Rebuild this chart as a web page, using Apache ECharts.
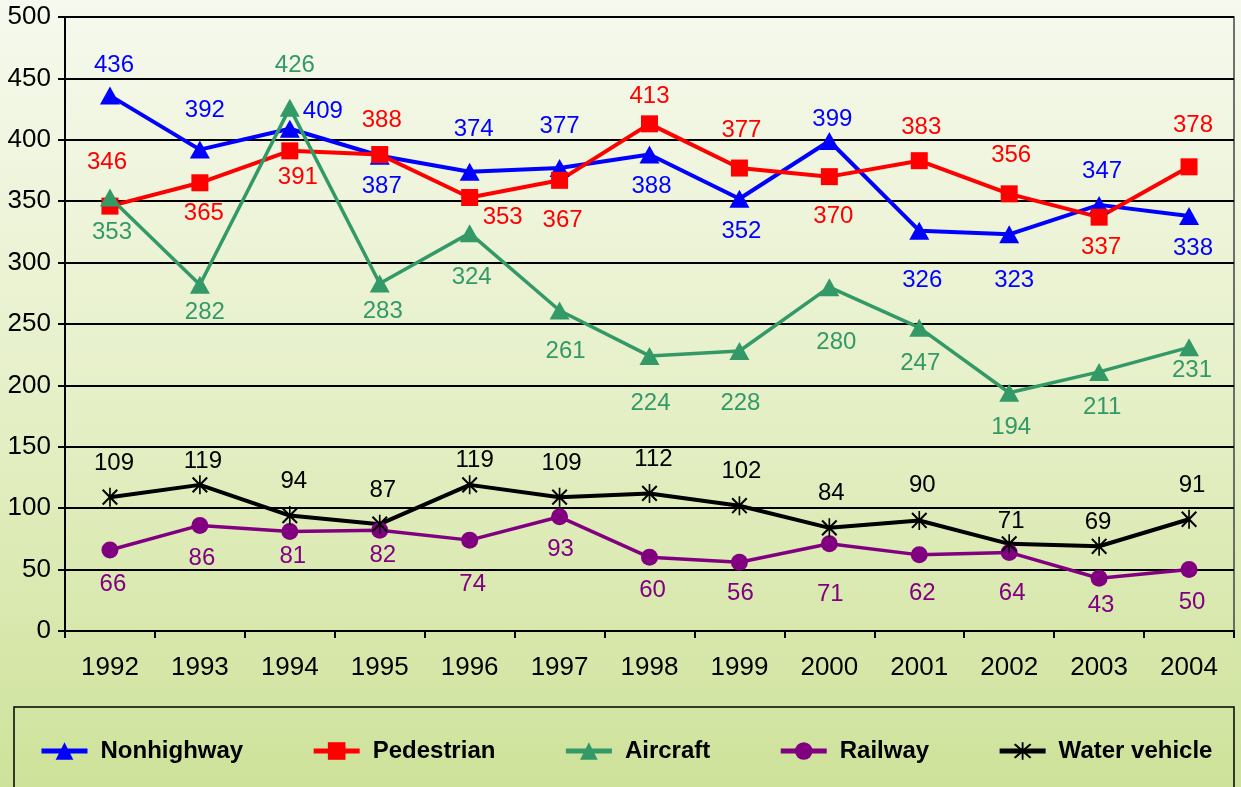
<!DOCTYPE html>
<html>
<head>
<meta charset="utf-8">
<script src="https://cdn.jsdelivr.net/npm/echarts@6/dist/echarts.min.js"></script>
<style>
  html, body { margin: 0; padding: 0; }
  #chart { width: 1241px; height: 787px; }
</style>
</head>
<body>
<div id="chart"></div>
<script>
// data
const years = ['1992', '1993', '1994', '1995', '1996', '1997', '1998', '1999', '2000', '2001', '2002', '2003', '2004']
const nonhighway = [436, 392, 409, 387, 374, 377, 388, 352, 399, 326, 323, 347, 338]
const pedestrian = [346, 365, 391, 388, 353, 367, 413, 377, 370, 383, 356, 337, 378]
const aircraft = [353, 282, 426, 283, 324, 261, 224, 228, 280, 247, 194, 211, 231]
const railway = [66, 86, 81, 82, 74, 93, 60, 56, 71, 62, 64, 43, 50]
const waterVehicle = [109, 119, 94, 87, 119, 109, 112, 102, 84, 90, 71, 69, 91]
const yTicks = { min: 0, max: 500, interval: 50 }

// label placement (pixel offset of each value label from its point)
const nonhighwayOffsets = [[4, -30], [5, -39], [33, -17], [2, 31], [4, -42], [0, -42], [2, 32], [2, 33], [3, -22], [3, 50], [5, 46], [3, -34], [4, 32]]
const pedestrianOffsets = [[-3, -44], [4, 31], [8, 27], [2, -34], [33, 20], [3, 40], [0, -27], [2, -38], [4, 40], [2, -33], [2, -38], [2, 30], [4, -41]]
const aircraftOffsets = [[2, 35], [5, 28], [5, -42], [3, 28], [2, 44], [6, 41], [1, 47], [1, 52], [7, 55], [1, 36], [2, 35], [3, 35], [3, 23]]
const railwayOffsets = [[3, 34], [2, 33], [3, 25], [3, 25], [3, 44], [1, 33], [3, 33], [1, 31], [1, 51], [3, 39], [3, 41], [2, 27], [3, 33]]
const waterOffsets = [[4, -34], [3, -23], [4, -34], [3, -34], [5, -24], [2, -34], [4, -34], [2, -34], [2, -34], [3, -35], [2, -22], [-1, -24], [3, -34]]

const font = '"Liberation Sans", Arial, sans-serif'
const asterisk = 'path://M-0.8,-9L0.8,-9L0.8,9L-0.8,9Z M-6.3,-7.7L7.7,6.3L6.3,7.7L-7.7,-6.3Z M-7.7,6.3L6.3,-7.7L7.7,-6.3L-6.3,7.7Z'

function makeSeries(name, values, offsets, color, symbol, symbolSize, width) {
  return {
    name: name,
    type: 'line',
    data: values.map((v, i) => ({ value: v, label: { offset: offsets[i] } })),
    symbol: symbol,
    symbolSize: symbolSize,
    showAllSymbol: true,
    itemStyle: { color: color },
    lineStyle: { color: color, width: width },
    label: {
      show: true,
      position: 'inside',
      color: color,
      fontSize: 24,
      fontFamily: font
    },
    emphasis: { disabled: true }
  }
}

const chart = echarts.init(document.getElementById('chart'))
chart.setOption({
  animation: false,
  backgroundColor: new echarts.graphic.LinearGradient(0, 0, 0, 1, [
    { offset: 0, color: '#f6f9ee' },
    { offset: 0.5, color: '#e6f0c8' },
    { offset: 1, color: '#cee29a' }
  ]),
  // legend frame
  graphic: [{
    type: 'rect',
    shape: { x: 14, y: 707, width: 1220, height: 100 },
    style: { fill: 'none', stroke: '#000', lineWidth: 1.5 },
    silent: true
  }],
  grid: {
    left: 65,
    right: 7,
    top: 17,
    bottom: 156,
    show: true,
    borderColor: '#444',
    borderWidth: 1.5
  },
  legend: {
    data: ['Nonhighway', 'Pedestrian', 'Aircraft', 'Railway', 'Water vehicle'],
    left: 39,
    top: 739,
    padding: 0,
    itemWidth: 46,
    itemHeight: 22,
    itemGap: 68,
    lineStyle: { width: 5 },
    textStyle: {
      color: '#000',
      fontSize: 24,
      fontWeight: 'bold',
      fontFamily: font,
      padding: [0, 0, 0, 8]
    }
  },
  xAxis: {
    type: 'category',
    data: years,
    boundaryGap: true,
    axisLine: { lineStyle: { color: '#000', width: 2 } },
    axisTick: { show: true, length: 7, lineStyle: { color: '#000', width: 2 } },
    axisLabel: { color: '#000', fontSize: 26, fontFamily: font, margin: 24 },
    splitLine: { show: false }
  },
  yAxis: {
    type: 'value',
    min: yTicks.min,
    max: yTicks.max,
    interval: yTicks.interval,
    axisLine: { show: true, lineStyle: { color: '#000', width: 2 } },
    axisTick: { show: true, length: 7, lineStyle: { color: '#000', width: 2 } },
    axisLabel: { color: '#000', fontSize: 26, fontFamily: font, margin: 14 },
    splitLine: { lineStyle: { color: '#000', width: 2 } }
  },
  series: [
    makeSeries('Nonhighway', nonhighway, nonhighwayOffsets, '#0000ff', 'triangle', [20, 18], 4),
    makeSeries('Pedestrian', pedestrian, pedestrianOffsets, '#ff0000', 'rect', [17, 17], 4),
    makeSeries('Aircraft', aircraft, aircraftOffsets, '#339966', 'triangle', [20, 18], 3.5),
    makeSeries('Railway', railway, railwayOffsets, '#800080', 'circle', 17, 3.5),
    makeSeries('Water vehicle', waterVehicle, waterOffsets, '#000000', asterisk, [16, 19], 4)
  ]
})
</script>
</body>
</html>
